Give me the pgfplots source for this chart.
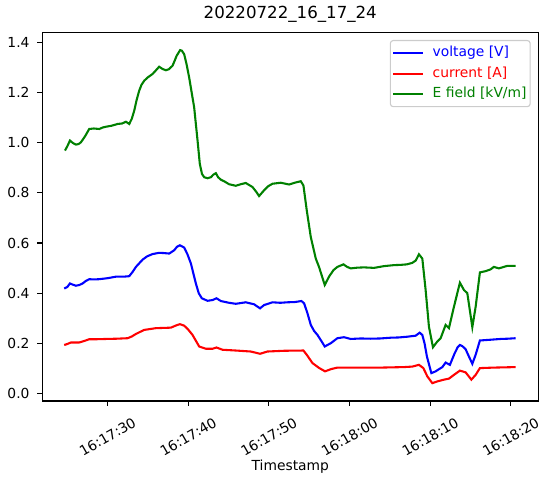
\documentclass[border=0pt]{standalone}
\usepackage{fontspec}
\setmainfont{DejaVu Sans}
\usepackage{pgfplots}
\pgfplotsset{compat=1.18}
\definecolor{mplgreen}{rgb}{0,0.5,0}
\definecolor{mplblue}{rgb}{0,0,1}
\definecolor{mplred}{rgb}{1,0,0}
\begin{document}
\begin{tikzpicture}
\useasboundingbox (-42.3bp,-83bp) rectangle (507.7bp,401bp);
\begin{axis}[
  at={(0,0)}, anchor=south west,
  scale only axis, width=496bp, height=368.7bp,
  xmin=21.9, xmax=83.4, ymin=-0.029, ymax=1.439,
  axis line style={line width=1.1bp},
  every tick/.style={black, line width=1.1bp},
  tick align=outside, major tick length=4.86bp, tick pos=left,
  xtick={30,40,50,60,70,80},
  xticklabels={16:17:30,16:17:40,16:17:50,16:18:00,16:18:10,16:18:20},
  ytick={0,0.2,0.4,0.6,0.8,1.0,1.2,1.4},
  /pgf/number format/fixed, /pgf/number format/fixed zerofill,
  /pgf/number format/precision=1, /pgf/number format/assume math mode=true,
  tick label style={font=\fontsize{13.9}{16}\selectfont},
  xticklabel style={yshift=-31bp, rotate=30, anchor=center},
  yticklabel style={anchor=east, xshift=-4.4bp},
  title={20220722\_16\_17\_24},
  title style={font=\fontsize{16.7}{20}\selectfont, at={(0.5,1)}, anchor=base, yshift=8.3bp},
  xlabel={Timestamp},
  xlabel style={font=\fontsize{13.9}{16}\selectfont, at={(0.5,0)}, anchor=base, yshift=-69.7bp},
  legend cell align=left,
  legend image code/.code={\draw[#1] (0bp,0bp) -- (29.7bp,0bp); \path (36.6bp,0bp);},
  legend style={at={(1,1)}, anchor=north east, xshift=-7.6bp, yshift=-7.7bp,
    draw=black!20, line width=1.1bp, fill=white, fill opacity=0.8, text opacity=1,
    draw opacity=1, rounded corners=2.8bp,
    font=\fontsize{13.9}{16}\selectfont,
    inner xsep=1.8bp, inner ysep=2bp, row sep=0bp,
    nodes={inner xsep=1.8bp, inner ysep=3.85bp, text height=10bp, text depth=3bp}},
]
\addplot[mplblue, line width=2.08bp] coordinates {
(24.62,0.419) (25.00,0.425) (25.33,0.439) (25.70,0.434) (26.07,0.430) (26.50,0.433) (26.90,0.439)
(27.30,0.449) (27.72,0.456) (28.30,0.455) (28.96,0.456) (30.00,0.460)
(31.03,0.466) (32.00,0.466) (32.68,0.468) (33.10,0.485) (33.51,0.505) (34.34,0.534) (34.90,0.547) (35.57,0.556) (36.39,0.561)
(37.00,0.560) (37.63,0.558) (38.25,0.571) (38.60,0.585) (38.96,0.591) (39.49,0.582) (39.90,0.555) (40.32,0.519) (40.94,0.439)
(41.30,0.400) (41.68,0.380) (42.39,0.370) (43.01,0.373) (43.50,0.380) (44.04,0.369) (45.06,0.362)
(45.89,0.358) (47.13,0.364) (48.16,0.356) (48.90,0.340) (49.40,0.353) (50.44,0.364)
(51.40,0.362) (52.30,0.364) (53.20,0.365) (54.03,0.369) (54.36,0.360) (54.78,0.320) (55.19,0.274) (55.60,0.250) (56.02,0.234)
(56.50,0.210) (56.92,0.188) (57.66,0.201) (58.49,0.221) (59.31,0.225) (60.14,0.218) (61.40,0.220) (62.62,0.219)
(63.80,0.220) (65.10,0.223) (66.10,0.224) (67.16,0.227) (68.19,0.231) (68.69,0.243) (69.02,0.234) (69.30,0.200) (69.59,0.148)
(70.14,0.082) (70.67,0.089) (71.10,0.098) (71.50,0.106) (71.91,0.124) (72.44,0.115) (73.03,0.161)
(73.40,0.185) (73.68,0.194) (74.00,0.189) (74.39,0.177) (74.80,0.148) (75.22,0.119) (75.63,0.155) (76.16,0.212)
(77.08,0.214) (77.90,0.216) (78.72,0.218) (79.60,0.219) (80.58,0.221)
};
\addlegendentry{\textcolor{mplblue}{voltage [V]}}
\addplot[mplred, line width=2.08bp] coordinates {
(24.62,0.194) (25.00,0.198) (25.45,0.204) (26.48,0.204) (27.10,0.210) (27.72,0.217) (28.70,0.217) (29.79,0.218) (31.10,0.219) (32.48,0.221)
(33.00,0.228) (33.51,0.238) (34.53,0.254) (35.98,0.261) (37.84,0.263) (38.50,0.272) (38.96,0.277) (39.49,0.271)
(40.00,0.255) (40.53,0.234) (41.35,0.188) (42.18,0.179) (43.01,0.179) (43.50,0.184) (44.25,0.175)
(45.89,0.172) (47.75,0.168) (48.90,0.159) (49.81,0.168) (51.87,0.171) (54.28,0.172)
(54.69,0.155) (55.40,0.122) (56.20,0.103) (56.96,0.089) (57.70,0.098) (58.49,0.104) (60.97,0.104) (63.86,0.104)
(66.74,0.106) (67.78,0.108) (68.60,0.115) (69.15,0.102) (69.64,0.069) (70.26,0.042)
(70.88,0.049) (71.70,0.056) (72.32,0.060) (72.94,0.075) (73.68,0.092) (74.39,0.085)
(75.10,0.056) (75.63,0.075) (76.16,0.102) (77.89,0.104) (80.58,0.106)
};
\addlegendentry{\textcolor{mplred}{current [A]}}
\addplot[mplgreen, line width=2.08bp] coordinates {
(24.71,0.968) (25.00,0.985) (25.33,1.008) (25.70,0.998) (26.07,0.992) (26.40,0.994) (26.69,1.001) (27.20,1.025) (27.72,1.054) (28.30,1.056) (28.96,1.054)
(29.40,1.060) (29.79,1.063) (30.50,1.067) (31.24,1.074) (31.80,1.076) (32.27,1.083) (32.68,1.074) (33.00,1.095) (33.30,1.127) (33.60,1.170) (33.91,1.206)
(34.20,1.230) (34.53,1.246) (35.00,1.260) (35.57,1.273) (36.00,1.288) (36.39,1.302) (36.80,1.293) (37.22,1.288) (37.60,1.292) (38.05,1.306) (38.30,1.325) (38.55,1.345)
(38.99,1.368) (39.20,1.366) (39.49,1.352) (39.80,1.310) (40.11,1.259) (40.73,1.140) (41.15,1.008) (41.43,0.915)
(41.70,0.875) (41.97,0.862) (42.40,0.858) (42.80,0.862) (43.10,0.872) (43.42,0.878) (43.70,0.862) (44.04,0.852) (44.50,0.845) (45.06,0.834) (45.89,0.828)
(46.50,0.834) (47.13,0.839) (47.96,0.823) (48.40,0.805) (48.78,0.787) (49.40,0.810) (49.90,0.826) (50.44,0.836) (51.47,0.840)
(52.50,0.833) (53.20,0.840) (53.95,0.846) (54.28,0.829) (54.69,0.730) (55.19,0.624) (55.81,0.538)
(56.21,0.505) (56.92,0.433) (57.45,0.466) (58.00,0.492) (58.49,0.505) (59.24,0.515) (59.70,0.505) (60.14,0.499)
(61.00,0.502) (61.79,0.503) (63.03,0.501) (64.27,0.508) (65.51,0.512) (66.34,0.513) (67.10,0.515) (67.78,0.521) (68.20,0.530)
(68.60,0.555) (69.02,0.538) (69.43,0.413) (69.84,0.267) (70.34,0.185) (70.88,0.208)
(71.29,0.221) (71.91,0.274) (72.32,0.261) (72.94,0.346) (73.68,0.442) (74.18,0.413)
(74.60,0.400) (75.22,0.265) (75.63,0.346) (76.16,0.483) (76.87,0.488) (77.48,0.495)
(77.89,0.505) (78.51,0.499) (79.55,0.509) (80.58,0.509)
};
\addlegendentry{\textcolor{mplgreen}{E field [kV/m]}}
\end{axis}
\end{tikzpicture}
\end{document}
